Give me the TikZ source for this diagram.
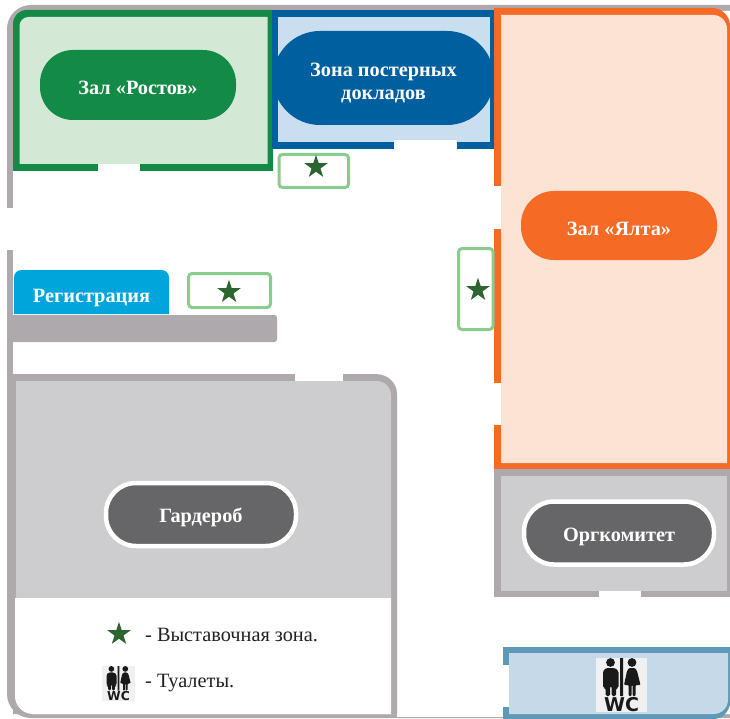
\documentclass[tikz,border=0pt]{standalone}
\usepackage{fontspec}
\setmainfont{Liberation Serif}
\newfontfamily\wcfont{DejaVu Sans}
\usetikzlibrary{shapes.geometric}
\definecolor{wallgray}{HTML}{AEA9AC}
\definecolor{roomgray}{HTML}{CDCDCF}
\definecolor{pillgray}{HTML}{666668}
\definecolor{rostov}{HTML}{138A45}
\definecolor{rostovfill}{HTML}{D3E8D5}
\definecolor{poster}{HTML}{005F9E}
\definecolor{posterfill}{HTML}{C9DFF0}
\definecolor{yalta}{HTML}{F56A24}
\definecolor{yaltafill}{HTML}{FDE3D3}
\definecolor{regblue}{HTML}{00A5DB}
\definecolor{wcstroke}{HTML}{5E9AB8}
\definecolor{wcfill}{HTML}{C6D9E8}
\definecolor{starbox}{HTML}{8ACB8E}
\definecolor{stargreen}{HTML}{2D6531}
\definecolor{legendtext}{HTML}{231F20}
\newcommand{\dn}[2]{\raisebox{-#1pt}[\height][\depth]{#2}}
\tikzset{
  pill/.style={rectangle,inner sep=0pt,outer sep=0pt,align=center,text=white,
    font=\fontsize{20.3}{23.5}\selectfont\bfseries},
  greypill/.style={pill,fill=pillgray,draw=white,line width=4.5pt,rounded corners=30pt},
  starshape/.style={star,star points=5,star point ratio=2.6,fill=stargreen,draw=none,
    minimum size=24.5pt,inner sep=0pt,outer sep=0pt},
  starframe/.style={draw=starbox,line width=3pt,fill=white,rounded corners=3.5pt},
  legend/.style={anchor=west,inner sep=0pt,text=legendtext,font=\fontsize{20.3}{24}\selectfont},
}
\newcommand{\wcicon}[3]{%
\begin{scope}[shift={(#1,#2)},scale=#3]
  \fill[black!6] (0,0) rectangle (51,54);
  \fill[black!90]
    (14.5,4.5) circle[radius=4.4]
    (24,0) rectangle (27,38)
    (36,4.5) circle[radius=4.4];
  \fill[black!90,rounded corners=1.5pt]
    (7,30) -- (7,13) -- (10,10) -- (19,10) -- (22.5,13) -- (22.5,30) -- (20,30) -- (20,38)
    -- (15.5,38) -- (15.5,28) -- (14,28) -- (14,38) -- (9.5,38) -- (9.5,30) -- cycle;
  \fill[black!90,rounded corners=1pt]
    (33,10) -- (39,10) -- (41,13) -- (44.5,27) -- (39.5,27) -- (39.5,38) -- (36.5,38) -- (36.5,27)
    -- (35.5,27) -- (35.5,38) -- (32.5,38) -- (32.5,27) -- (28,27) -- (31,13) -- cycle;
  \node[inner sep=0pt,outer sep=0pt,transform shape,text=black!90,
    font=\fontsize{19}{19}\wcfont\bfseries] (#1wc) at (25.5,46.7) {WC};
\end{scope}}
\begin{document}
\begin{tikzpicture}[x=1pt,y=-1pt]
\useasboundingbox (0,0) rectangle (730,719);
\fill[white] (0,0) rectangle (730,719);
% outer wall
\fill[wallgray,rounded corners=24pt] (7,5) -- (760,5) -- (760,718) -- (7,718) -- cycle;
\fill[white,rounded corners=19pt] (13,11) -- (760,11) -- (760,714) -- (13,714) -- cycle;
\fill[white] (0,208) rectangle (13,250);
\fill[white] (397,714) rectangle (503,717);
% Rostov room
\fill[rostov] (13,171) -- (13,24) .. controls (13,16) and (19,10) .. (27,10) -- (273,10) -- (273,171) -- cycle;
\fill[rostovfill] (19.5,164) -- (19.5,26) .. controls (19.5,21) and (23.5,17) .. (28.5,17) -- (267.5,17) -- (267.5,164) -- cycle;
\fill[white] (97.5,164) rectangle (140,171);
% Poster room
\fill[poster] (272,10) rectangle (496,149);
\fill[posterfill] (277.5,17) rectangle (489.5,142);
\fill[white] (394,140) rectangle (457,149);
% Yalta room
\fill[yalta] (494,469) -- (494,8) -- (712,8) .. controls (722,8) and (730,16) .. (730,26) -- (730,469) -- cycle;
\fill[yaltafill] (501,463) -- (501,15) -- (713,15) .. controls (721,15) and (727,21) .. (727,29) -- (727,463) -- cycle;
\fill[white] (494,186) rectangle (501,229);
\fill[white] (494,383) rectangle (501,425);
% Orgcommittee room
\fill[wallgray] (494,469) rectangle (730,597);
\fill[roomgray] (501,476) rectangle (727,591);
\fill[white] (599,591) rectangle (641,597);
% WC room
\fill[wcstroke] (503,719) -- (503,647) -- (730,647) -- (730,705) .. controls (727,714) and (722,719) .. (712,719) -- cycle;
\fill[wcfill] (509,714) -- (509,653) -- (728,653) -- (728,699) .. controls (728,708) and (722,714) .. (713,714) -- cycle;
\fill[white] (503,665) rectangle (509,707);
% Cloakroom
\fill[wallgray] (13,714) -- (13,374) -- (375,374) .. controls (388,374) and (397,383) .. (397,394) -- (397,714) -- cycle;
\fill[roomgray] (16,598) -- (16,381) -- (376,381) .. controls (385,381) and (391,387) .. (391,396) -- (391,598) -- cycle;
\fill[white] (15,598) -- (391,598) -- (391,714) -- (33,714) .. controls (23,714) and (15,706) .. (15,696) -- cycle;
\fill[white] (295,374) rectangle (343,381);
% Counter
\fill[wallgray] (7,315) -- (274,315) .. controls (276,315) and (277,316) .. (277,318) -- (277,339) .. controls (277,341) and (276,342) .. (274,342) -- (7,342) -- cycle;
% Registration
\fill[regblue] (14,314) -- (14,278) .. controls (14,273) and (17,270) .. (22,270) -- (161,270) .. controls (166,270) and (169,273) .. (169,278) -- (169,314) -- cycle;
\node[pill] (reg) at (91.5,294) {\dn{4}{Регистрация}};
% Pills
\node[pill,fill=rostov,rounded corners=33pt,minimum width=196pt,minimum height=70pt] (rostovpill) at (138,85) {\dn{3}{Зал «Ростов»}};
\begin{scope}
  \clip (272,10) rectangle (496,149);
  \node[pill,fill=poster,rounded corners=47pt,minimum width=221pt,minimum height=94pt] (posterpill) at (383.5,78) {\dn{5}{Зона постерных}\\\dn{5}{докладов}};
\end{scope}
\node[pill,fill=yalta,rounded corners=33pt,minimum width=196pt,minimum height=69pt] (yaltapill) at (619,225.5) {\dn{3}{Зал «Ялта»}};
\node[greypill,minimum width=190pt,minimum height=63pt] (cloakpill) at (201,514.5) {\dn{3}{Гардероб}};
\node[greypill,minimum width=190pt,minimum height=63pt] (orgpill) at (619,533) {\dn{4}{Оргкомитет}};
% Exhibition zones
\draw[starframe] (279,154.5) rectangle (348.5,187.5);
\node[starshape] (star1) at (316,167) {};
\draw[starframe] (188.5,273.5) rectangle (270.5,307.5);
\node[starshape] (star2) at (229,292) {};
\draw[starframe] (458.5,248.5) rectangle (493,329.5);
\node[starshape] (star3) at (478,290) {};
% Legend
\node[starshape] (star4) at (119,634) {};
\node[legend] (legend1) at (145,635) {- Выставочная зона.};
\node[legend] (legend2) at (145,683) {- Туалеты.};
\wcicon{102}{666}{0.647}
\wcicon{596}{658}{1}
\end{tikzpicture}
\end{document}
